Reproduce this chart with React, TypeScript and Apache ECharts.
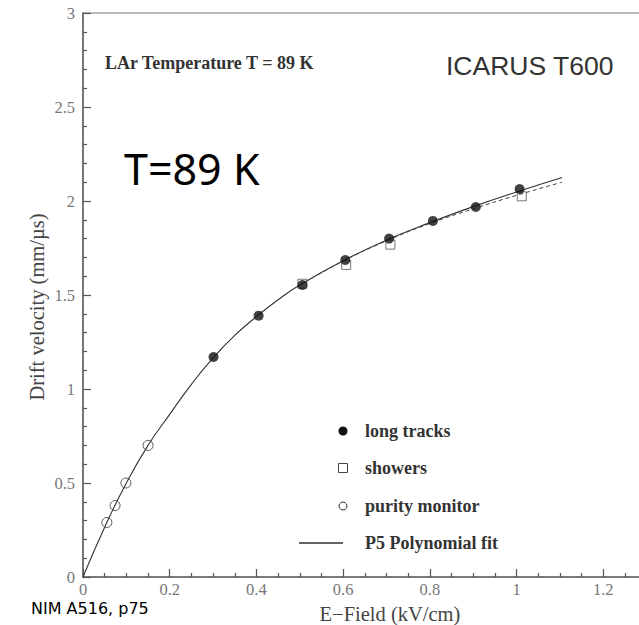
import React, { useEffect, useRef } from "react";
import * as echarts from "echarts";

const longTracks: [number, number][] = [
  [0.301, 1.17], [0.405, 1.39], [0.506, 1.553], [0.605, 1.686],
  [0.706, 1.80], [0.807, 1.894], [0.906, 1.968], [1.007, 2.064],
];
const showers: [number, number][] = [
  [0.506, 1.56], [0.607, 1.66], [0.709, 1.768], [1.012, 2.025],
];
const purityMonitor: [number, number][] = [
  [0.055, 0.29], [0.074, 0.38], [0.099, 0.5], [0.15, 0.70],
];
const fitSolid: [number, number][] = [
  [0, 0], [0.05, 0.265], [0.1, 0.5], [0.15, 0.70], [0.2, 0.865], [0.25, 1.025],
  [0.3, 1.165], [0.35, 1.285], [0.4, 1.385], [0.45, 1.475], [0.5, 1.553],
  [0.6, 1.682], [0.7, 1.792], [0.8, 1.885], [0.9, 1.97], [1.0, 2.048], [1.105, 2.125],
];
const fitDashed: [number, number][] = [
  [0.5, 1.553], [0.6, 1.68], [0.7, 1.788], [0.8, 1.88], [0.9, 1.958],
  [1.0, 2.03], [1.105, 2.10],
];
const legendLabels = ["long tracks", "showers", "purity monitor", "P5 Polynomial fit"];

export default function App() {
  const ref = useRef<HTMLDivElement>(null);
  useEffect(() => {
    document.body.style.margin = "0";
    const chart = echarts.init(ref.current!, undefined, { renderer: "svg" });
    const serif = "Liberation Serif";
    const axisCommon = {
      axisLine: { show: true, onZero: false, lineStyle: { color: "#666", width: 1.5 } },
      axisTick: { show: true, inside: true, length: 8, lineStyle: { color: "#555", width: 1.2 } },
      minorTick: { show: true, length: 4, lineStyle: { color: "#555", width: 1.2 } },
      splitLine: { show: false },
      minorSplitLine: { show: false },
      axisLabel: { color: "#777", fontFamily: serif, fontSize: 16.5, lineHeight: 14 },
    };
    const legY = [431, 468, 506, 543];
    chart.setOption({
      animation: false,
      backgroundColor: "#fff",
      grid: {
        left: 83, top: 13, bottom: 48, right: -51,
        outerBoundsMode: "none",
        containLabel: false,
        show: true, borderColor: "#777", borderWidth: 1.2,
      },
      xAxis: {
        type: "value", min: 0, max: 1.4, interval: 0.2,
        ...axisCommon,
        minorTick: { ...axisCommon.minorTick, splitNumber: 4 },
        axisLabel: { ...axisCommon.axisLabel, margin: 5, showMaxLabel: false },
      },
      yAxis: {
        type: "value", min: 0, max: 3, interval: 0.5,
        ...axisCommon,
        minorTick: { ...axisCommon.minorTick, splitNumber: 5 },
        axisLabel: { ...axisCommon.axisLabel, margin: 8 },
      },
      series: [
        {
          name: "P5 Polynomial fit", type: "line", data: fitSolid, smooth: true,
          showSymbol: false, lineStyle: { color: "#333", width: 1.1 }, z: 2,
        },
        {
          name: "fit dashed", type: "line", data: fitDashed, smooth: true,
          showSymbol: false, lineStyle: { color: "#444", width: 1, type: [4, 3] }, z: 2,
        },
        {
          name: "showers", type: "scatter", data: showers, symbol: "rect", symbolSize: 9,
          itemStyle: { color: "rgba(255,255,255,0)", borderColor: "#555", borderWidth: 1 }, z: 3,
        },
        {
          name: "purity monitor", type: "scatter", data: purityMonitor, symbol: "circle", symbolSize: 10,
          itemStyle: { color: "rgba(255,255,255,0)", borderColor: "#333", borderWidth: 1 }, z: 3,
        },
        {
          name: "long tracks", type: "scatter", data: longTracks, symbol: "circle", symbolSize: 10,
          itemStyle: { color: "#111" }, z: 4,
        },
      ],
      graphic: [
        {
          type: "text", left: 105, top: 54,
          style: { text: "LAr Temperature T = 89 K", fontFamily: serif, fontWeight: "bold", fontSize: 18, fill: "#333" },
        },
        {
          type: "text", left: 446, top: 52,
          style: { text: "ICARUS T600", fontFamily: "Liberation Sans", fontSize: 26.5, fill: "#333" },
        },
        {
          type: "text", left: 124, top: 147,
          style: { text: "T=89 K", fontFamily: "Noto Sans", fontSize: 43, fill: "#000" },
        },
        {
          type: "text", x: 31, y: 608,
          style: { text: "NIM A516, p75", fontFamily: "DejaVu Sans", fontSize: 16, fill: "#000", verticalAlign: "middle" },
        },
        {
          type: "text", x: 37, y: 307, rotation: Math.PI / 2,
          style: { text: "Drift velocity (mm/\u00b5s)", fontFamily: serif, fontSize: 20.5, fill: "#444", align: "center", verticalAlign: "middle" },
        },
        {
          type: "text", x: 390, y: 614,
          style: { text: "E\u2212Field (kV/cm)", fontFamily: serif, fontSize: 20.5, fill: "#444", align: "center", verticalAlign: "middle" },
        },
        { type: "circle", shape: { cx: 343, cy: legY[0], r: 4.5 }, style: { fill: "#111" } },
        { type: "rect", shape: { x: 338.5, y: legY[1] - 4.5, width: 9, height: 9 }, style: { fill: "none", stroke: "#444", lineWidth: 1 } },
        { type: "circle", shape: { cx: 343, cy: legY[2], r: 4 }, style: { fill: "none", stroke: "#333", lineWidth: 1 } },
        { type: "line", shape: { x1: 299, y1: legY[3], x2: 343, y2: legY[3] }, style: { stroke: "#333", lineWidth: 1.3 } },
        ...legendLabels.map((t, i) => ({
          type: "text", x: 365, y: legY[i],
          style: { text: t, fontFamily: serif, fontWeight: "bold", fontSize: 18, fill: "#333", verticalAlign: "middle" },
        })),
      ],
    });
    return () => chart.dispose();
  }, []);
  return <div ref={ref} style={{ width: 639, height: 625 }} />;
}
